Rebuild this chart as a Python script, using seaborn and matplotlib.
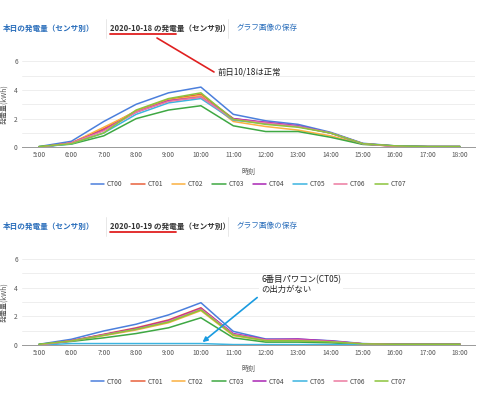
import numpy as np
import pandas as pd
import matplotlib
matplotlib.use("Agg")
import matplotlib.pyplot as plt
from matplotlib.lines import Line2D
import seaborn as sns

# ── Data ──────────────────────────────────────────────────────────────────────
HOURS = [5, 6, 7, 8, 9, 10, 11, 12, 13, 14, 15, 16, 17, 18]
HOUR_LABELS = [f"{h}:00" for h in HOURS]
SENSORS = ["CT00", "CT01", "CT02", "CT03", "CT04", "CT05", "CT06", "CT07"]
COLORS = ["#4b7fdc", "#e8603c", "#fbb040", "#3ea843",
          "#a926b4", "#3cb4e0", "#ec7aa0", "#8cc43c"]

# 2020-10-18 (normal day)
day1_ct00 = [0.05, 0.42, 1.8, 3.0, 3.8, 4.2, 2.3, 1.85, 1.6, 1.05, 0.28, 0.1, 0.05, 0.05]
day1_ct01 = [0.0, 0.3, 1.3, 2.55, 3.35, 3.7, 2.0, 1.7, 1.45, 1.0, 0.25, 0.08, 0.05, 0.05]
day1_ct02 = [0.0, 0.3, 1.4, 2.5, 3.3, 3.6, 1.8, 1.45, 1.2, 0.8, 0.22, 0.08, 0.05, 0.05]
day1_ct03 = [0.05, 0.22, 0.8, 2.0, 2.6, 2.9, 1.5, 1.1, 1.1, 0.7, 0.2, 0.1, 0.05, 0.05]
day1_ct04 = [0.0, 0.3, 1.2, 2.45, 3.25, 3.5, 2.0, 1.75, 1.5, 1.0, 0.25, 0.08, 0.05, 0.05]
day1_ct05 = [0.0, 0.25, 1.0, 2.3, 3.1, 3.4, 1.9, 1.65, 1.45, 1.0, 0.25, 0.08, 0.05, 0.05]
day1_ct06 = [0.0, 0.3, 1.15, 2.45, 3.2, 3.5, 1.95, 1.7, 1.45, 1.0, 0.25, 0.05, 0.0, 0.0]
day1_ct07 = [0.05, 0.25, 1.0, 2.6, 3.4, 3.8, 1.95, 1.6, 1.4, 1.0, 0.25, 0.1, 0.05, 0.05]

# 2020-10-19 (CT05 has no output)
day2_ct00 = [0.05, 0.4, 0.98, 1.45, 2.1, 2.95, 0.95, 0.42, 0.4, 0.3, 0.1, 0.05, 0.05, 0.05]
day2_ct01 = [0.0, 0.3, 0.75, 1.2, 1.75, 2.6, 0.75, 0.35, 0.35, 0.25, 0.08, 0.05, 0.05, 0.05]
day2_ct02 = [0.0, 0.3, 0.65, 1.05, 1.55, 2.4, 0.65, 0.3, 0.3, 0.2, 0.08, 0.05, 0.05, 0.05]
day2_ct03 = [0.05, 0.25, 0.5, 0.8, 1.2, 1.9, 0.5, 0.2, 0.2, 0.15, 0.05, 0.05, 0.05, 0.05]
day2_ct04 = [0.0, 0.3, 0.72, 1.15, 1.7, 2.55, 0.8, 0.38, 0.42, 0.28, 0.08, 0.05, 0.05, 0.05]
day2_ct05 = [0.0, 0.1, 0.1, 0.1, 0.1, 0.1, 0.03, 0.03, 0.03, 0.03, 0.03, 0.03, 0.03, 0.03]
day2_ct06 = [0.0, 0.28, 0.7, 1.1, 1.65, 2.5, 0.75, 0.35, 0.35, 0.25, 0.08, 0.03, 0.03, 0.03]
day2_ct07 = [0.05, 0.28, 0.68, 1.1, 1.6, 2.45, 0.7, 0.3, 0.3, 0.22, 0.08, 0.05, 0.05, 0.05]

DAY1 = [day1_ct00, day1_ct01, day1_ct02, day1_ct03, day1_ct04, day1_ct05, day1_ct06, day1_ct07]
DAY2 = [day2_ct00, day2_ct01, day2_ct02, day2_ct03, day2_ct04, day2_ct05, day2_ct06, day2_ct07]

sns.set_theme(style="white")
plt.rcParams["font.family"] = ["Noto Sans CJK JP", "DejaVu Sans"]

W, H = 480, 394
fig = plt.figure(figsize=(W / 100, H / 100), dpi=100)
fig.patch.set_facecolor("white")


def px(x, y):
    """pixel (from top-left) -> figure fraction"""
    return x / W, 1 - y / H


def to_long(series):
    rows = []
    for name, vals in zip(SENSORS, series):
        for h, v in zip(HOURS, vals):
            rows.append({"hour": h, "sensor": name, "kwh": v})
    return pd.DataFrame(rows)


def draw_header(y, date_str):
    fig.text(*px(3, y), "本日の発電量（センサ別）", color="#2a6ebb",
             fontsize=5.5, fontweight="bold", va="center")
    fig.text(*px(110, y), f"{date_str} の発電量（センサ別）", color="#333333",
             fontsize=5.5, fontweight="bold", va="center")
    fig.text(*px(237, y), "グラフ画像の保存", color="#2a6ebb",
             fontsize=5.5, va="center")
    for xs in (106, 228):
        fig.add_artist(Line2D([xs / W, xs / W], [1 - (y - 9) / H, 1 - (y + 10) / H],
                              color="#e4e4e4", lw=0.6))
    fig.add_artist(Line2D([110 / W, 176 / W], [1 - (y + 6) / H, 1 - (y + 6) / H],
                          color="#e02020", lw=1.3))


def draw_panel(y_zero, series):
    left, bottom = px(22, y_zero)
    top = 1 - (y_zero - 86) / H
    ax = fig.add_axes([left, bottom, (475 - 22) / W, top - bottom])
    df = to_long(series)
    sns.lineplot(data=df, x="hour", y="kwh", hue="sensor",
                 palette=dict(zip(SENSORS, COLORS)), lw=1.1, ax=ax)
    ax.set_xlim(5 - 17 / 32.4, 18 + 15 / 32.4)
    ax.set_ylim(0, 6)
    ax.set_yticks([0, 2, 4, 6])
    ax.set_yticks([1, 3, 5], minor=True)
    ax.set_xticks(HOURS)
    ax.set_xticklabels(HOUR_LABELS)
    ax.grid(axis="y", which="both", color="#ebebeb", lw=0.6)
    ax.set_axisbelow(True)
    for s in ("top", "right", "left"):
        ax.spines[s].set_visible(False)
    ax.spines["bottom"].set_color("#999999")
    ax.spines["bottom"].set_linewidth(0.7)
    ax.tick_params(axis="both", which="both", length=0, labelsize=4.8,
                   colors="#555555", pad=3)
    ax.set_xlabel("時刻", fontsize=5, color="#555555", labelpad=6)
    ax.set_ylabel("発電量(kWh)", fontsize=5, color="#555555", labelpad=4)
    handles, labels = ax.get_legend_handles_labels()
    ax.legend(handles, labels, loc="center", bbox_to_anchor=(0.5, -0.425),
              ncol=8, frameon=False, fontsize=4.8, handlelength=2.0,
              handletextpad=0.4, columnspacing=1.35, labelcolor="#444444")
    return ax


# ── Top panel (10/18) ─────────────────────────────────────────────────────────
draw_header(28, "2020-10-18")
ax1 = draw_panel(147.3, DAY1)
fig.add_artist(Line2D([157 / W, 214 / W], [1 - 38 / H, 1 - 72 / H],
                      color="#e02020", lw=1.2))
fig.text(*px(218, 72), "前日10/18は正常", fontsize=6, color="#222222", va="center")

# ── Bottom panel (10/19) ──────────────────────────────────────────────────────
draw_header(226, "2020-10-19")
ax2 = draw_panel(345, DAY2)
ax2.annotate("6番目パワコン(CT05)\nの出力がない", xy=(10.05, 0.2),
             xytext=px(261, 285), textcoords="figure fraction",
             fontsize=6, color="#222222", va="center", ha="left",
             linespacing=1.1,
             bbox=dict(boxstyle="square,pad=0.2", fc="white", ec="none"),
             arrowprops=dict(arrowstyle="-|>", color="#1a9be0", lw=1.2,
                             shrinkA=2, shrinkB=0, mutation_scale=7,
                             relpos=(0.0, 0.0)))

fig.savefig("out.png", dpi=100, facecolor="white")
